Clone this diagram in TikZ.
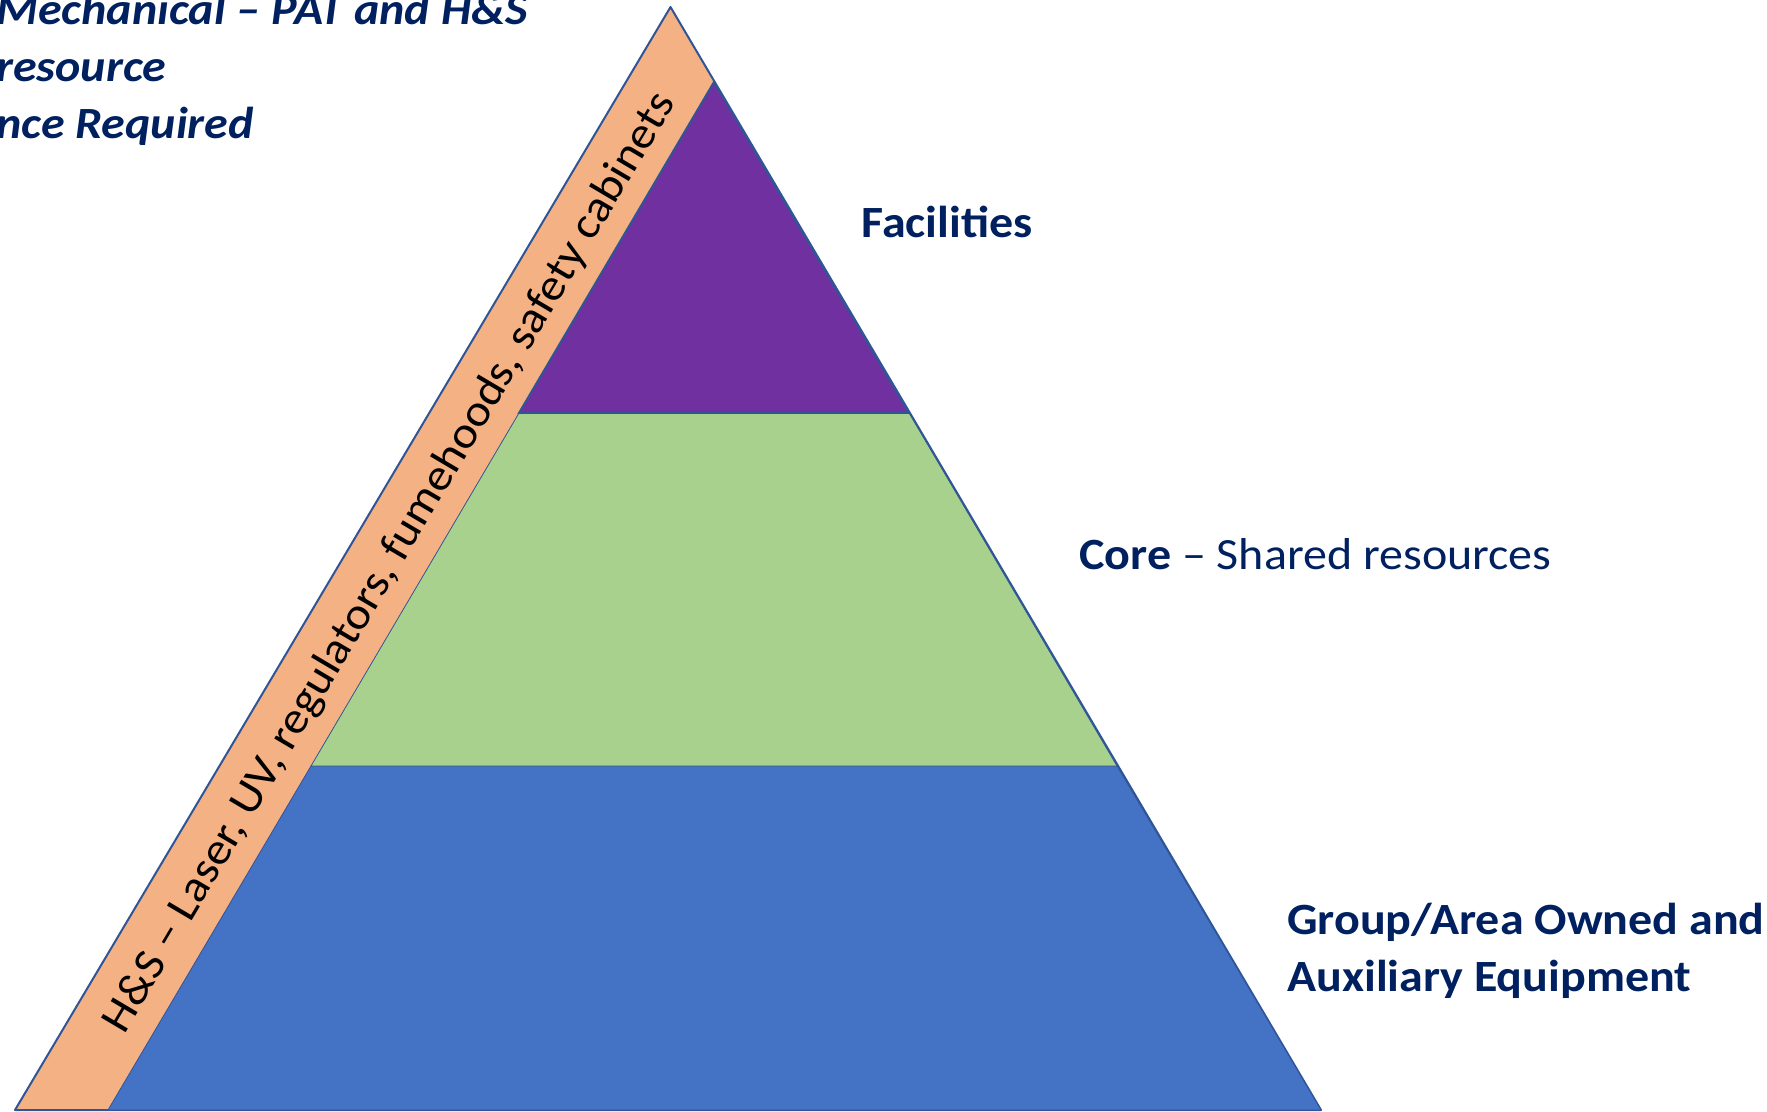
\documentclass[tikz,border=0pt]{standalone}
\usepackage{fontspec}
\setmainfont{Carlito}[FakeStretch=1.075]
\usepackage{xcolor}

\definecolor{navy}{HTML}{002060}
\definecolor{hsorange}{HTML}{F4B183}
\definecolor{facpurple}{HTML}{7030A0}
\definecolor{coregreen}{HTML}{A9D18E}
\definecolor{groupblue}{HTML}{4472C4}
\definecolor{edgeblue}{HTML}{2F5597}

\begin{document}
\begin{tikzpicture}[x=0.75pt,y=-0.75pt,
  band/.style={draw=edgeblue,line width=0.6pt},
  tiertext/.style={anchor=base west,inner sep=0pt,text=navy,font=\fontsize{33.5}{43}\selectfont},
  sidenote/.style={tiertext,font=\fontsize{33.5}{43}\selectfont\bfseries\itshape}]
\useasboundingbox (0,0) rectangle (1767,1112);
\coordinate (top) at (670.5,7);
\coordinate (outerleft) at (15,1110);
\coordinate (apex) at (714,82);
\coordinate (baseleft) at (108,1110);
\coordinate (baseright) at (1321,1110);
\coordinate (facleft) at (519,413);
\coordinate (facright) at (909,413);
\coordinate (coreleft) at (311,766);
\coordinate (coreright) at (1117,766);
\draw[fill=hsorange,draw=edgeblue,line width=1.5pt,line join=round] (top) -- (outerleft) -- (baseright) -- cycle;
\draw[band,fill=groupblue] (coreleft) -- (coreright) -- (baseright) -- (baseleft) -- cycle;
\draw[band,fill=coregreen] (facleft) -- (facright) -- (coreright) -- (coreleft) -- cycle;
\draw[band,fill=facpurple,line width=1.5pt] (apex) -- (facright) -- (facleft) -- cycle;
\draw (390,563) node[rotate=59.4,font=\fontsize{33.5}{43}\selectfont](hs) {H\&S – Laser, UV, regulators, fumehoods, safety cabinets};
\draw (861,238) node[tiertext](fac) {\textbf{Facilities}};
\draw (1079,569) node[tiertext](core) {\textbf{Core} – Shared resources};
\draw (1287,934) node[tiertext](grpone) {\textbf{Group/Area Owned and}};
\draw (1287,991) node[tiertext](grptwo) {\textbf{Auxiliary Equipment}};
\draw (-4,25) node[sidenote](noteone) {Mechanical – PAT and H\&S};
\draw (-4,82) node[sidenote](notetwo) {resource};
\draw (-4,139) node[sidenote](notethree) {nce Required};
\end{tikzpicture}
\end{document}
